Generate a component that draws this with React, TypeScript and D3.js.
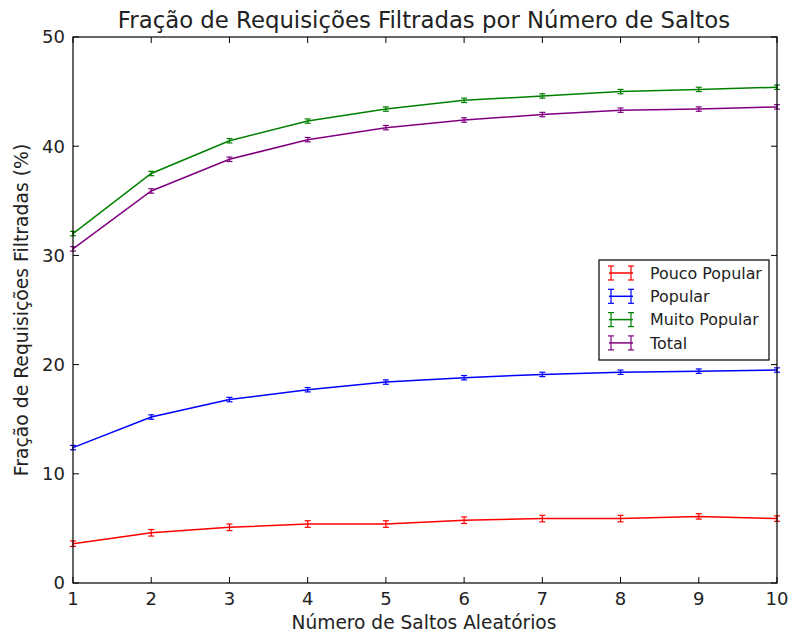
import React, { useEffect, useRef } from 'react';
import * as d3 from 'd3';

const hops = [1, 2, 3, 4, 5, 6, 7, 8, 9, 10];
const poucoPopular = [3.6, 4.6, 5.1, 5.4, 5.4, 5.75, 5.9, 5.9, 6.1, 5.9];
const popular = [12.4, 15.2, 16.8, 17.7, 18.4, 18.8, 19.1, 19.3, 19.4, 19.5];
const muitoPopular = [32.0, 37.5, 40.5, 42.3, 43.4, 44.2, 44.6, 45.0, 45.2, 45.4];
const total = [30.6, 35.9, 38.8, 40.6, 41.7, 42.4, 42.9, 43.3, 43.4, 43.6];
const errPouco = [0.25, 0.3, 0.3, 0.3, 0.3, 0.3, 0.3, 0.3, 0.25, 0.25];
const errPopular = [0.2, 0.2, 0.2, 0.2, 0.2, 0.2, 0.2, 0.2, 0.2, 0.2];
const errMuito = [0.2, 0.2, 0.2, 0.2, 0.2, 0.2, 0.2, 0.2, 0.2, 0.2];
const errTotal = [0.2, 0.2, 0.2, 0.2, 0.2, 0.2, 0.2, 0.2, 0.2, 0.2];
const seriesNames = ['Pouco Popular', 'Popular', 'Muito Popular', 'Total'];
const seriesColors = ['#ff0000', '#0000ff', '#008000', '#800080'];
const xTicks = [1, 2, 3, 4, 5, 6, 7, 8, 9, 10];
const yTicks = [0, 10, 20, 30, 40, 50];

const W = 790;
const H = 637;
const margin = { left: 73, right: 13, top: 37, bottom: 54 };
const font = 'DejaVu Sans, sans-serif';

const Chart = () => {
  const ref = useRef<SVGSVGElement>(null);

  useEffect(() => {
    const svg = d3.select(ref.current);
    svg.selectAll('*').remove();

    const x = d3.scaleLinear().domain([1, 10]).range([margin.left, W - margin.right]);
    const y = d3.scaleLinear().domain([0, 50]).range([H - margin.bottom, margin.top]);

    const values = [poucoPopular, popular, muitoPopular, total];
    const errs = [errPouco, errPopular, errMuito, errTotal];

    const line = d3
      .line<number>()
      .x((_, i) => x(hops[i]))
      .y(d => y(d));

    values.forEach((vals, s) => {
      const g = svg.append('g');
      g.append('path')
        .attr('d', line(vals))
        .attr('fill', 'none')
        .attr('stroke', seriesColors[s])
        .attr('stroke-width', 1.5);
      vals.forEach((v, i) => {
        const cx = x(hops[i]);
        const e = errs[s][i];
        g.append('line')
          .attr('x1', cx).attr('x2', cx)
          .attr('y1', y(v - e)).attr('y2', y(v + e))
          .attr('stroke', seriesColors[s]).attr('stroke-width', 1.2);
        [v - e, v + e].forEach(b => {
          g.append('line')
            .attr('x1', cx - 3).attr('x2', cx + 3)
            .attr('y1', y(b)).attr('y2', y(b))
            .attr('stroke', seriesColors[s]).attr('stroke-width', 1.2);
        });
      });
    });

    // frame
    const x0 = margin.left, x1 = W - margin.right;
    const y0 = H - margin.bottom, y1 = margin.top;
    svg.append('rect')
      .attr('x', x0).attr('y', y1)
      .attr('width', x1 - x0).attr('height', y0 - y1)
      .attr('fill', 'none').attr('stroke', '#000').attr('stroke-width', 1.2);

    const tl = 6;
    xTicks.forEach(t => {
      svg.append('line').attr('x1', x(t)).attr('x2', x(t)).attr('y1', y0).attr('y2', y0 - tl).attr('stroke', '#000');
      svg.append('line').attr('x1', x(t)).attr('x2', x(t)).attr('y1', y1).attr('y2', y1 + tl).attr('stroke', '#000');
      svg.append('text')
        .attr('x', x(t)).attr('y', 605)
        .attr('text-anchor', 'middle')
        .style('font-family', font).style('font-size', '18px')
        .style('fill', '#222')
        .text(t);
    });
    yTicks.forEach(t => {
      svg.append('line').attr('x1', x0).attr('x2', x0 + tl).attr('y1', y(t)).attr('y2', y(t)).attr('stroke', '#000');
      svg.append('line').attr('x1', x1).attr('x2', x1 - tl).attr('y1', y(t)).attr('y2', y(t)).attr('stroke', '#000');
      svg.append('text')
        .attr('x', x0 - 8).attr('y', y(t))
        .attr('dy', '0.36em')
        .attr('text-anchor', 'end')
        .style('font-family', font).style('font-size', '18px')
        .style('fill', '#222')
        .text(t);
    });

    svg.append('text')
      .attr('x', 424).attr('y', 28)
      .attr('text-anchor', 'middle')
      .style('font-family', font).style('font-size', '22.8px')
      .style('fill', '#222')
      .text('Fração de Requisições Filtradas por Número de Saltos');

    svg.append('text')
      .attr('x', 424).attr('y', 629)
      .attr('text-anchor', 'middle')
      .style('font-family', font).style('font-size', '18.6px')
      .style('fill', '#222')
      .text('Número de Saltos Aleatórios');

    svg.append('text')
      .attr('transform', `translate(28,310) rotate(-90)`)
      .attr('text-anchor', 'middle')
      .style('font-family', font).style('font-size', '18.8px')
      .style('fill', '#222')
      .text('Fração de Requisições Filtradas (%)');

    // legend
    const lg = svg.append('g');
    lg.append('rect')
      .attr('x', 599).attr('y', 260).attr('width', 170).attr('height', 100)
      .attr('fill', '#fff').attr('stroke', '#000').attr('stroke-width', 1.2);
    seriesNames.forEach((name, i) => {
      const cy = 273 + i * 23.3;
      const c = seriesColors[i];
      lg.append('line').attr('x1', 609).attr('x2', 633).attr('y1', cy).attr('y2', cy).attr('stroke', c).attr('stroke-width', 1.5);
      [611, 631].forEach(px => {
        lg.append('line').attr('x1', px).attr('x2', px).attr('y1', cy - 7).attr('y2', cy + 7).attr('stroke', c).attr('stroke-width', 1.2);
        lg.append('line').attr('x1', px - 3).attr('x2', px + 3).attr('y1', cy - 7).attr('y2', cy - 7).attr('stroke', c).attr('stroke-width', 1.2);
        lg.append('line').attr('x1', px - 3).attr('x2', px + 3).attr('y1', cy + 7).attr('y2', cy + 7).attr('stroke', c).attr('stroke-width', 1.2);
      });
      lg.append('text')
        .attr('x', 650).attr('y', cy).attr('dy', '0.36em')
        .style('font-family', font).style('font-size', '15.9px')
        .style('fill', '#222')
        .text(name);
    });
  }, []);

  return <svg ref={ref} width={W} height={H} style={{ display: 'block' }}></svg>;
};

export default function App() {
  return (
    <div style={{ position: 'absolute', left: 0, top: 0, background: '#fff' }}>
      <Chart />
    </div>
  );
}
